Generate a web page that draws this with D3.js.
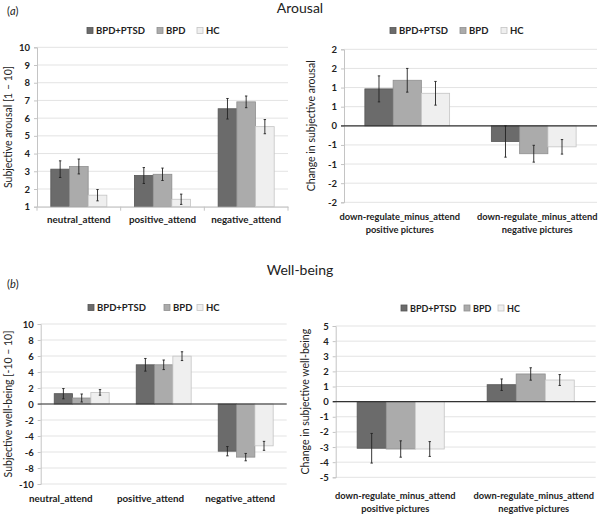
<!DOCTYPE html>
<html>
<head>
<meta charset="utf-8">
<script src="https://cdn.jsdelivr.net/npm/d3@7"></script>
<style>
  body { margin: 0; background: #fff; }
  svg { font-family: Lato, "Open Sans", sans-serif; }
</style>
</head>
<body>
<svg id="chart" width="600" height="517"></svg>
<script>
// groups shared by all four panels
const groups = ["BPD+PTSD", "BPD", "HC"];
const fills = ["#6b6b6b", "#ababab", "#efefef"];
const strokes = ["#555555", "#8f8f8f", "#c4c4c4"];

// (a) arousal
const arousalCats = ["neutral_attend", "positive_attend", "negative_attend"];
const arousalMean = [[3.12, 2.76, 6.53], [3.27, 2.83, 6.92], [1.65, 1.42, 5.52]];
const arousalErr = [[0.47, 0.45, 0.58], [0.42, 0.35, 0.33], [0.32, 0.29, 0.40]];
const arousalTicks = [1, 2, 3, 4, 5, 6, 7, 8, 9, 10];

// (a) change in arousal
const changeCats = [["down-regulate_minus_attend", "positive pictures"], ["down-regulate_minus_attend", "negative pictures"]];
const arousalChgMean = [[0.965, -0.41], [1.19, -0.73], [0.85, -0.55]];
const arousalChgErr = [[0.34, 0.41], [0.31, 0.22], [0.31, 0.19]];
const arousalChgTicks = [-2, -1.5, -1, -0.5, 0, 0.5, 1, 1.5, 2];
const arousalChgLabels = ["-2", "-2", "-1", "-1", "0", "1", "1", "2", "2"];

// (b) well-being
const wellCats = ["neutral_attend", "positive_attend", "negative_attend"];
const wellMean = [[1.29, 4.9, -5.9], [0.75, 4.9, -6.64], [1.45, 5.98, -5.23]];
const wellErr = [[0.64, 0.79, 0.58], [0.5, 0.6, 0.46], [0.35, 0.55, 0.56]];
const wellTicks = [-10, -8, -6, -4, -2, 0, 2, 4, 6, 8, 10];

// (b) change in well-being
const wellChgMean = [[-3.08, 1.12], [-3.13, 1.83], [-3.13, 1.43]];
const wellChgErr = [[0.98, 0.38], [0.54, 0.41], [0.49, 0.36]];
const wellChgTicks = [-5, -4, -3, -2, -1, 0, 1, 2, 3, 4, 5];

const svg = d3.select("#chart");

// section titles
svg.append("text").attr("x", 300).attr("y", 13).attr("text-anchor", "middle")
    .attr("font-size", "14px").attr("fill", "#222").text("Arousal");
svg.append("text").attr("x", 300).attr("y", 275).attr("text-anchor", "middle")
    .attr("font-size", "14px").attr("fill", "#222").text("Well-being");
svg.append("text").attr("x", 7).attr("y", 15).attr("font-size", "11px").attr("fill", "#222")
    .html('(<tspan font-style="italic">a</tspan>)');
svg.append("text").attr("x", 7).attr("y", 288).attr("font-size", "11px").attr("fill", "#222")
    .html('(<tspan font-style="italic">b</tspan>)');

function panel(p) {
    const g = svg.append("g");
    const nCat = p.cats.length;

    const x = d3.scaleBand().domain(d3.range(nCat)).range(p.xr).paddingInner(0.33).paddingOuter(0.165);
    const xg = d3.scaleBand().domain(d3.range(groups.length)).range([0, x.bandwidth()]);
    const y = d3.scaleLinear().domain(p.yd).range(p.yr);
    const base = p.yd[0] < 0 ? 0 : p.yd[0];

    // gridlines
    g.append("g").selectAll("line").data(p.ticks).join("line")
        .attr("x1", p.xr[0]).attr("x2", p.xr[1])
        .attr("y1", d => y(d)).attr("y2", d => y(d))
        .attr("stroke", "#e3e3e3").attr("stroke-width", 1);

    // y axis
    const yAxis = d3.axisLeft(y).tickValues(p.ticks).tickSize(3).tickPadding(4)
        .tickFormat((d, i) => p.tickLabels ? p.tickLabels[i] : d);
    const ya = g.append("g").attr("transform", `translate(${p.xr[0]},0)`).call(yAxis);
    ya.select(".domain").attr("stroke", "#c4c4c4");
    ya.selectAll(".tick line").attr("stroke", "#c4c4c4");
    ya.selectAll(".tick text").attr("font-size", "9.5px").attr("font-weight", "bold")
        .attr("fill", "#222").attr("font-family", "Lato, sans-serif");

    // bars
    groups.forEach((grp, gi) => {
        g.append("g").selectAll("rect").data(p.mean[gi]).join("rect")
            .attr("x", (d, i) => x(i) + xg(gi))
            .attr("width", xg.bandwidth())
            .attr("y", d => y(Math.max(d, base)))
            .attr("height", d => Math.abs(y(d) - y(base)))
            .attr("fill", fills[gi]).attr("stroke", strokes[gi]).attr("stroke-width", 0.8);
    });

    // bottom / zero axis
    if (p.yd[0] < 0) {
        g.append("line").attr("x1", p.xr[0] - 3).attr("x2", p.xr[1])
            .attr("y1", y(0)).attr("y2", y(0)).attr("stroke", "#333").attr("stroke-width", 1.2);
    } else {
        const xa = g.append("g").attr("transform", `translate(0,${y(base)})`)
            .call(d3.axisBottom(x).tickValues([]).tickSizeOuter(0));
        xa.select(".domain").attr("stroke", "#c4c4c4");
        g.append("g").selectAll("line").data(d3.range(nCat + 1)).join("line")
            .attr("x1", i => i < nCat ? x(i) - x.step() * x.paddingInner() / 2 : p.xr[1])
            .attr("x2", i => i < nCat ? x(i) - x.step() * x.paddingInner() / 2 : p.xr[1])
            .attr("y1", y(base)).attr("y2", y(base) + 4)
            .attr("stroke", "#c4c4c4");
    }

    // error bars
    groups.forEach((grp, gi) => {
        const eg = g.append("g").selectAll("g").data(p.mean[gi]).join("g")
            .attr("transform", (d, i) => `translate(${x(i) + xg(gi) + xg.bandwidth() / 2},0)`);
        eg.append("line").attr("y1", (d, i) => y(d - p.err[gi][i])).attr("y2", (d, i) => y(d + p.err[gi][i]))
            .attr("stroke", "#222").attr("stroke-width", 0.9);
        eg.append("line").attr("x1", -1.2).attr("x2", 1.2)
            .attr("y1", (d, i) => y(d - p.err[gi][i])).attr("y2", (d, i) => y(d - p.err[gi][i]))
            .attr("stroke", "#222").attr("stroke-width", 0.9);
        eg.append("line").attr("x1", -1.2).attr("x2", 1.2)
            .attr("y1", (d, i) => y(d + p.err[gi][i])).attr("y2", (d, i) => y(d + p.err[gi][i]))
            .attr("stroke", "#222").attr("stroke-width", 0.9);
    });

    // category labels
    const lx = p.labelRange ? d3.scaleBand().domain(d3.range(nCat)).range(p.labelRange) : x;
    const labels = g.append("g").selectAll("text").data(p.cats).join("text")
        .attr("x", (d, i) => lx(i) + lx.bandwidth() / 2)
        .attr("y", p.labelY)
        .attr("text-anchor", "middle").attr("font-size", p.labelSize || "9.8px").attr("font-weight", "bold")
        .attr("fill", "#222");
    labels.each(function(d) {
        const lines = Array.isArray(d) ? d : [d];
        d3.select(this).selectAll("tspan").data(lines).join("tspan")
            .attr("x", d3.select(this).attr("x"))
            .attr("dy", (t, j) => j === 0 ? 0 : 12.5)
            .text(t => t);
    });

    // y title
    g.append("text")
        .attr("transform", `translate(${p.titleX},${(p.yr[0] + p.yr[1]) / 2}) rotate(-90)`)
        .attr("text-anchor", "middle").attr("font-size", "10.5px").attr("fill", "#222")
        .text(p.yTitle);

    // legend
    const lg = g.append("g").selectAll("g").data(groups).join("g")
        .attr("transform", (d, i) => `translate(${p.legendX[i]},${p.legendY})`);
    lg.append("rect").attr("x", -3).attr("y", -3).attr("width", 6).attr("height", 6)
        .attr("fill", (d, i) => fills[i]).attr("stroke", (d, i) => strokes[i]).attr("stroke-width", 0.8);
    lg.append("text").attr("x", 6).attr("y", 3.5).attr("font-size", p.legendSize || "9.5px").attr("font-weight", "bold")
        .attr("fill", "#222").text(d => d);
}

panel({
    cats: arousalCats, mean: arousalMean, err: arousalErr, ticks: arousalTicks,
    xr: [37, 288], yd: [1, 10], yr: [206.7, 47.3], labelY: 223,
    yTitle: "Subjective arousal [1 \u2013 10]", titleX: 12,
    legendX: [90, 160, 200], legendY: 30.5
});

panel({
    cats: changeCats, mean: arousalChgMean, err: arousalChgErr, ticks: arousalChgTicks,
    tickLabels: arousalChgLabels,
    xr: [344, 597], yd: [-2, 2], yr: [202.3, 49.3], labelY: 220,
    labelRange: [331, 606], labelSize: "9.3px",
    yTitle: "Change in subjective arousal", titleX: 315,
    legendX: [393, 463, 504], legendY: 30.5
});

panel({
    cats: wellCats, mean: wellMean, err: wellErr, ticks: wellTicks,
    xr: [40.7, 286.7], yd: [-10, 10], yr: [484, 324], labelY: 502,
    labelRange: [16, 285],
    yTitle: "Subjective well-being [-10 \u2013 10]", titleX: 12,
    legendX: [91, 167, 200], legendY: 307.5
});

panel({
    cats: changeCats, mean: wellChgMean, err: wellChgErr, ticks: wellChgTicks,
    xr: [335.7, 595.7], yd: [-5, 5], yr: [477.3, 326], labelY: 499,
    labelRange: [326, 603], labelSize: "9.3px",
    yTitle: "Change in subjective well-being", titleX: 309,
    legendX: [404, 467, 501], legendY: 308, legendSize: "9px"
});
</script>
</body>
</html>
